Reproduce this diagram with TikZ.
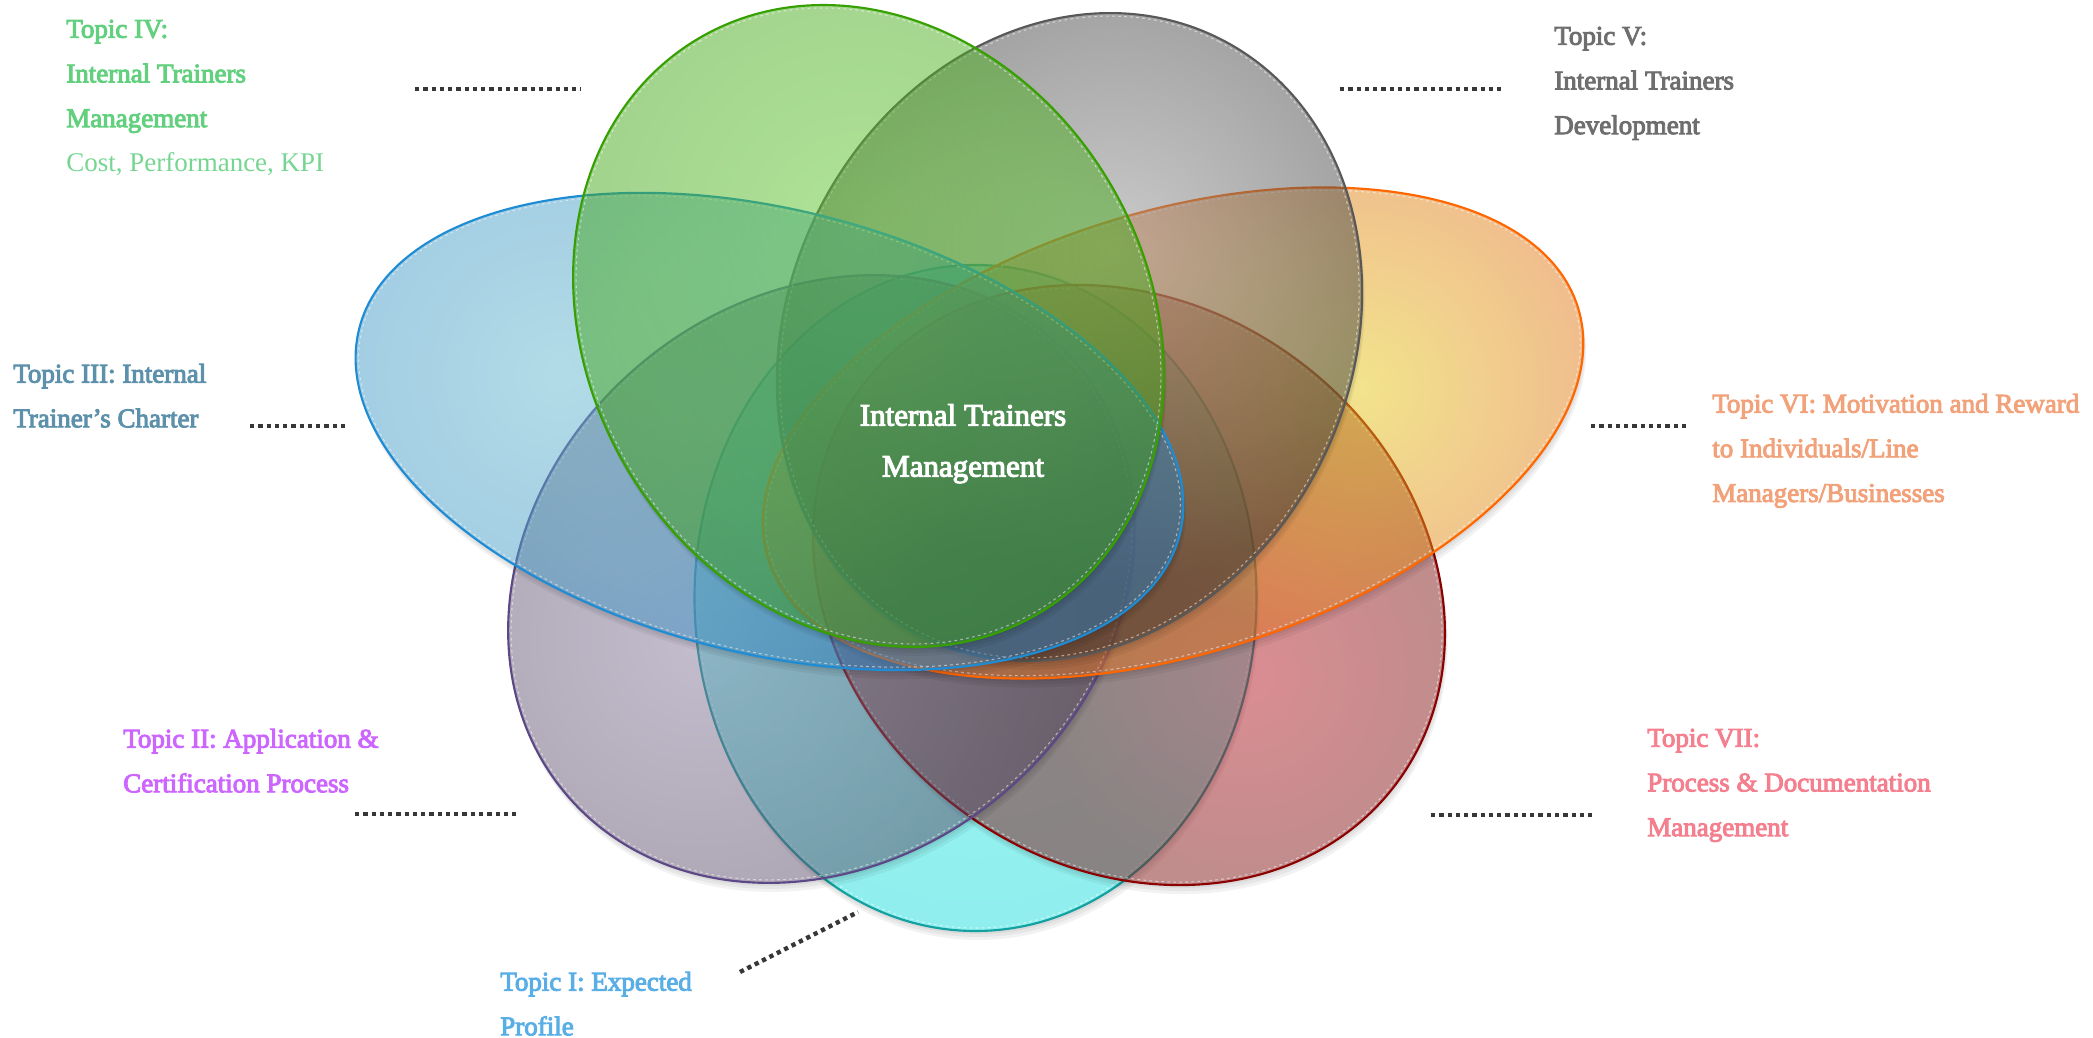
\documentclass[tikz,border=0pt]{standalone}
\usepackage{fontspec}
\setmainfont{Liberation Serif}
\newfontfamily\labelfont{Liberation Serif}[FakeBold=3.5]

% petal colours: fill centre, fill rim, outline
\definecolor{cyanin}{RGB}{50,232,228}   \definecolor{cyanout}{RGB}{29,222,219}  \definecolor{cyanline}{RGB}{18,160,160}
\definecolor{purpin}{RGB}{135,122,155}  \definecolor{purpout}{RGB}{75,61,87}    \definecolor{purpline}{RGB}{92,72,135}
\definecolor{redin}{RGB}{182,28,40}     \definecolor{redout}{RGB}{129,25,25}    \definecolor{redline}{RGB}{139,0,0}
\definecolor{orgin}{RGB}{229,200,25}    \definecolor{orgout}{RGB}{225,113,29}   \definecolor{orgline}{RGB}{255,102,0}
\definecolor{grayin}{RGB}{150,150,150}  \definecolor{grayout}{RGB}{45,45,45}    \definecolor{grayline}{RGB}{88,88,88}
\definecolor{bluein}{RGB}{101,185,207}  \definecolor{blueout}{RGB}{41,125,189}  \definecolor{blueline}{RGB}{30,140,212}
\definecolor{grnin}{RGB}{95,200,45}     \definecolor{grnout}{RGB}{57,151,21}    \definecolor{grnline}{RGB}{54,160,0}

% label colours
\definecolor{tI}{RGB}{90,174,230}
\definecolor{tII}{RGB}{204,102,255}
\definecolor{tIII}{RGB}{93,145,171}
\definecolor{tIV}{RGB}{98,208,126}
\definecolor{tIVlight}{RGB}{118,214,145}
\definecolor{tV}{RGB}{110,110,110}
\definecolor{tVI}{RGB}{242,162,122}
\definecolor{tVII}{RGB}{244,127,143}
\definecolor{leadergray}{RGB}{55,55,55}

\colorlet{petalin}{white}
\colorlet{petalout}{black}
\pgfdeclareradialshading[petalin,petalout]{petalglow}{\pgfpointorigin}%
  {color(0bp)=(petalin); color(12.5bp)=(petalout); color(50bp)=(petalout)}

% #1,#2 centre; #3 tilt; #4,#5 half axes; #6,#7 brightest point;
% #8 colour set; #9 reach of the glow
\newcommand\petal[9]{%
  % soft shadow, kept outside the petal itself
  \begin{scope}[shift={(#1,#2)},rotate=#3,even odd rule]
    \clip (0,0) ellipse[x radius=#4,y radius=#5] (0,0) circle[radius=3000];
    \foreach \d in {3,6,9}
      \fill[reset cm,black,opacity=.05,shift={(#1+0.3*\d,#2+\d)},rotate=#3]
        (0,0) ellipse[x radius=#4,y radius=#5];
  \end{scope}
  % translucent glowing fill
  \begin{scope}[shift={(#1,#2)},rotate=#3]
    \clip (0,0) ellipse[x radius=#4,y radius=#5];
    \colorlet{petalin}{#8in}\colorlet{petalout}{#8out}%
    \shade[reset cm,shading=petalglow,fill opacity=.5,shift={(#6,#7)}]
      (-2*#9,-2*#9) rectangle (2*#9,2*#9);
    \fill[reset cm,#8out,fill opacity=.5,even odd rule,shift={(#6,#7)}]
      (-2*#9,-2*#9) rectangle (2*#9,2*#9) (-1200,-1200) rectangle (1200,1200);
  \end{scope}
  % bevel highlight and outline
  \draw[white,opacity=.5,line width=.8pt,dash pattern=on 2pt off 2.5pt,
        shift={(#1,#2)},rotate=#3]
    (0,0) ellipse[x radius=#4-3,y radius=#5-3];
  \draw[#8line,line width=1.6pt,shift={(#1,#2)},rotate=#3]
    (0,0) ellipse[x radius=#4,y radius=#5];
}

\begin{document}
\begin{tikzpicture}[x=0.75pt,y=-0.75pt,
  topic/.style={anchor=north west,inner sep=0pt,align=left,
    font=\fontsize{20.25pt}{33.5pt}\selectfont},
  leader/.style={draw=leadergray,line width=3.3pt,dash pattern=on 3.2pt off 3pt}]
\useasboundingbox (0,0) rectangle (2093,1038);

% overlapping petals, back to front
\petal{975.5}{598}{90}{333}{281}{975}{600}{cyan}{400}
\petal{1129}{585}{-36.1}{333}{281}{1245}{675}{red}{210}
\petal{821.5}{579}{39.85}{334}{281}{700}{640}{purp}{380}
\petal{1173}{433}{17.2}{424}{221}{1360}{388}{org}{260}
\petal{1069.5}{337}{63.1}{334}{281}{1115}{250}{gray}{330}
\petal{769.5}{431.5}{-14.05}{423}{222}{560}{375}{blue}{420}
\petal{868.5}{326}{120.7}{334}{280.5}{860}{230}{grn}{420}

% centre title
\node[anchor=north,inner sep=0pt,align=center,text=white,
      font=\fontsize{23.25pt}{38.25pt}\selectfont] (core) at (963,403.8)
  {\labelfont Internal Trainers\\ \labelfont Management};

% topic labels
\node[topic,text=tIV] (t4) at (66,19.6)
  {\labelfont Topic IV:\\ \labelfont Internal Trainers\\ \labelfont Management\\
   \rmfamily\color{tIVlight}Cost, Performance, KPI};
\node[topic,text=tV] (t5) at (1554,26.6)
  {\labelfont Topic V:\\ \labelfont Internal Trainers\\ \labelfont Development};
\node[topic,text=tIII] (t3) at (13,363.6)
  {\labelfont Topic III: Internal\\ \labelfont Trainer’s Charter};
\node[topic,text=tVI] (t6) at (1712,393.6)
  {\labelfont Topic VI: Motivation and Reward\\ \labelfont to Individuals/Line\\ \labelfont Managers/Businesses};
\node[topic,text=tII] (t2) at (123,728.6)
  {\labelfont Topic II: Application \&\\ \labelfont Certification Process};
\node[topic,text=tVII] (t7) at (1647,728.6)
  {\labelfont Topic VII:\\ \labelfont Process \& Documentation\\ \labelfont Management};
\node[topic,text=tI] (t1) at (500,971.6)
  {\labelfont Topic I: Expected\\ \labelfont Profile};

% dotted leaders
\coordinate (l4a) at (415,89);   \coordinate (l4b) at (581,89);
\coordinate (l5a) at (1340,89);  \coordinate (l5b) at (1503,89);
\coordinate (l3a) at (250,426);  \coordinate (l3b) at (348,426);
\coordinate (l6a) at (1591,426); \coordinate (l6b) at (1690,426);
\coordinate (l2a) at (355,814);  \coordinate (l2b) at (518,814);
\coordinate (l7a) at (1431,815); \coordinate (l7b) at (1595,815);
\coordinate (l1a) at (740,972);  \coordinate (l1b) at (858,912);
\foreach \k in {1,...,7}
  \draw[leader] (l\k a) -- (l\k b);
\end{tikzpicture}
\end{document}
